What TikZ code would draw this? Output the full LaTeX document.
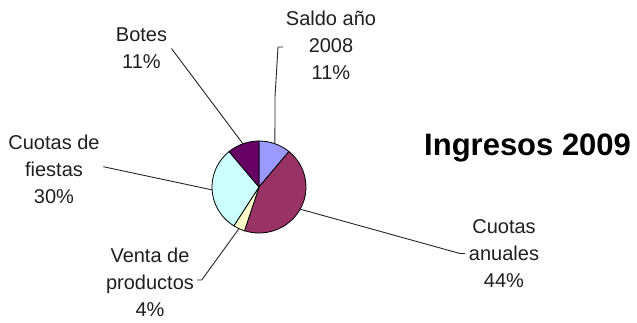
\documentclass[tikz,border=0pt]{standalone}
\usepackage{fontspec}
\setmainfont{Liberation Sans}
\usetikzlibrary{calc}
\definecolor{cSaldo}{HTML}{9999FF}
\definecolor{cAnual}{HTML}{993366}
\definecolor{cVenta}{HTML}{FFFFCC}
\definecolor{cFiesta}{HTML}{CCFFFF}
\definecolor{cBotes}{HTML}{660066}
\tikzset{
  slice/.style={draw=black, line width=0.8pt, line join=round},
  lbl/.style={anchor=north, inner sep=0pt, align=center, text=black!88,
    font=\fontsize{20}{27}\selectfont},
  leader/.style={draw=black!85, line width=0.9pt},
}
\begin{document}
\begin{tikzpicture}[x=1pt,y=-1pt]
\useasboundingbox (0,0) rectangle (637,322);
\coordinate (C) at (259,187);
% slices (coordinate angles are page angles negated)
\path[slice, fill=cSaldo]  (C) -- ($(C)+(-90:47 and 46)$) arc[start angle=-90, end angle=-50.4, x radius=47, y radius=46] -- cycle;
\path[slice, fill=cAnual]  (C) -- ($(C)+(-50.4:47 and 46)$) arc[start angle=-50.4, end angle=108, x radius=47, y radius=46] -- cycle;
\path[slice, fill=cVenta]  (C) -- ($(C)+(108:47 and 46)$) arc[start angle=108, end angle=122.4, x radius=47, y radius=46] -- cycle;
\path[slice, fill=cFiesta] (C) -- ($(C)+(122.4:47 and 46)$) arc[start angle=122.4, end angle=230.4, x radius=47, y radius=46] -- cycle;
\path[slice, fill=cBotes]  (C) -- ($(C)+(230.4:47 and 46)$) arc[start angle=230.4, end angle=270, x radius=47, y radius=46] -- cycle;
% pie edge points of leaders
\coordinate (pSaldo)  at ($(C)+(-70.2:47 and 46)$);
\coordinate (pAnual)  at ($(C)+(28.8:47 and 46)$);
\coordinate (pVenta)  at ($(C)+(115.2:47 and 46)$);
\coordinate (pFiesta) at ($(C)+(176.4:47 and 46)$);
\coordinate (pBotes)  at ($(C)+(250:47 and 46)$);
% labels
\node[lbl] (lSaldo)  at (331,11)  {Saldo año\\2008\\11\%};
\node[lbl] (lBotes)  at (141.5,28) {Botes\\11\%};
\node[lbl] (lFiesta) at (54,135)  {Cuotas de\\fiestas\\30\%};
\node[lbl] (lVenta)  at (150,248) {Venta de\\productos\\4\%};
\node[lbl] (lAnual)  at (504,219) {Cuotas\\anuales\\44\%};
\node[anchor=base west, inner sep=0pt, font=\fontsize{31}{36}\selectfont\bfseries] (title) at (424,155) {Ingresos 2009};
% leader end points near labels
\coordinate (eSaldo)  at (283,47);
\coordinate (kSaldo1) at (278,47);
\coordinate (kSaldo2) at (275,97);
\coordinate (eBotes)  at (171.5,48.5);
\coordinate (eFiesta) at (103.3,166.7);
\coordinate (eVenta)  at (197,280);
\coordinate (kVenta)  at (201.7,280);
\coordinate (eAnual)  at (465,253.5);
\coordinate (kAnual)  at (460,253.5);
% leaders
\draw[leader] (eSaldo) -- (kSaldo1) -- (kSaldo2) -- (pSaldo);
\draw[leader] (eBotes) -- (pBotes);
\draw[leader] (eFiesta) -- (pFiesta);
\draw[leader] (eVenta) -- (kVenta) -- (pVenta);
\draw[leader] (eAnual) -- (kAnual) -- (pAnual);
\end{tikzpicture}
\end{document}
